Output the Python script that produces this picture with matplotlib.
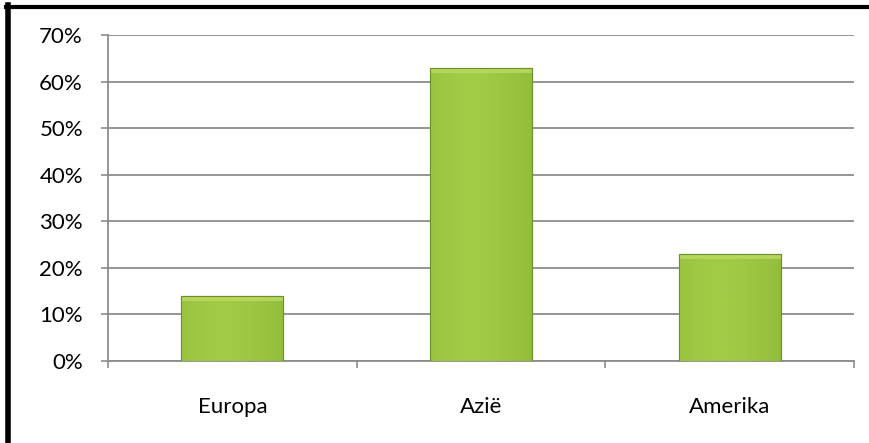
import matplotlib.pyplot as plt
import matplotlib.colors as mcolors
from matplotlib.lines import Line2D
from matplotlib.patches import Rectangle
import numpy as np

# --- data ---
regions = ["Europa", "Azië", "Amerika"]
shares = [14, 63, 23]          # percent
yticks = [0, 10, 20, 30, 40, 50, 60, 70]

plt.rcParams['font.family'] = ['Lato', 'DejaVu Sans']
grid_col = '#8c8c8c'

fig = plt.figure(figsize=(8.7, 4.43), dpi=100)
ax = fig.add_axes([108 / 870, 1 - 361 / 443, 746 / 870, 326 / 443])

x = np.arange(len(regions))
bar_w = 0.41
bars = ax.bar(x, shares, width=bar_w, color='#9bc43f', edgecolor='#6e8f2c',
              linewidth=0.8, zorder=3)

# soft horizontal gradient inside each bar to mimic the bevel look
grad = np.linspace(0, 1, 256)
shade = 1 - 0.35 * np.abs(grad - 0.4) ** 1.5
cmap = mcolors.LinearSegmentedColormap.from_list(
    'g', ['#6f9a2a', '#92bc3a', '#a2cb46'])
for b in bars:
    bx, by, bw, bh = b.get_x(), b.get_y(), b.get_width(), b.get_height()
    img = ax.imshow(shade[np.newaxis, :], cmap=cmap, aspect='auto',
                    extent=[bx, bx + bw, by, by + bh], vmin=0.65, vmax=1,
                    zorder=3.5, interpolation='bicubic')
    img.set_clip_path(b)
    # lighter top bevel
    ax.add_patch(Rectangle((bx, by + bh - 1.1), bw, 1.1, facecolor='#b9dc63',
                           edgecolor='none', alpha=0.8, zorder=3.6))
    ax.add_patch(Rectangle((bx, by), bw, bh, facecolor='none',
                           edgecolor='#6e8f2c', linewidth=0.8, zorder=3.7))

ax.set_xlim(-0.5, len(regions) - 0.5)
ax.set_ylim(0, 70)
ax.set_yticks(yticks)
ax.set_yticklabels([f"{v}%" for v in yticks], fontsize=16)
ax.yaxis.grid(True, color=grid_col, linewidth=1.3, zorder=0)
ax.set_axisbelow(True)

ax.set_xticks(x)
ax.set_xticklabels(regions, fontsize=16)
ax.tick_params(axis='x', which='major', length=0, pad=26)
ax.set_xticks(np.arange(-0.5, len(regions)), minor=True)
ax.tick_params(axis='x', which='minor', length=5, width=1.2, color=grid_col,
               direction='out')
ax.tick_params(axis='y', length=5, width=1.2, color=grid_col, pad=13)

for s in ['top', 'right']:
    ax.spines[s].set_visible(False)
for s in ['left', 'bottom']:
    ax.spines[s].set_color(grid_col)
    ax.spines[s].set_linewidth(1.3)

# black frame on left and top of the picture
fig.add_artist(Line2D([8.5 / 870, 8.5 / 870], [0, 1 - 5 / 443],
                      transform=fig.transFigure, color='black', linewidth=4))
fig.add_artist(Line2D([6.5 / 870, 1], [1 - 6.5 / 443, 1 - 6.5 / 443],
                      transform=fig.transFigure, color='black', linewidth=3))

fig.savefig('out.png', dpi=100, facecolor='white')
